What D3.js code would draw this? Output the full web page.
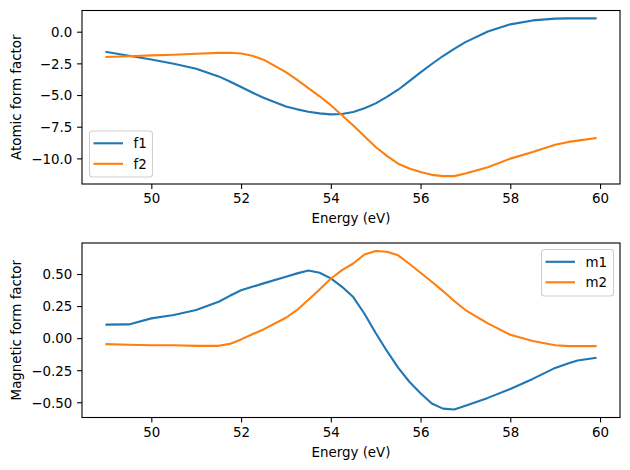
<!DOCTYPE html>
<html>
<head>
<meta charset="utf-8">
<script src="https://cdn.jsdelivr.net/npm/d3@7"></script>
<style>
  body { margin: 0; background: #fff; }
  svg text { font-family: "DejaVu Sans", sans-serif; font-size: 13.4px; fill: #000; }
</style>
</head>
<body>
<svg id="chart" width="630" height="470"></svg>
<script>
// energies (eV)
var energy = [49, 49.5, 50, 50.5, 51, 51.5, 51.75, 52, 52.25, 52.5, 53, 53.25, 53.5, 53.75, 54, 54.25, 54.5, 54.75, 55, 55.25, 55.5, 55.75, 56, 56.25, 56.5, 56.75, 57, 57.5, 58, 58.5, 59, 59.3, 59.5, 59.9];

// atomic form factor
var f1 = [-1.6, -1.9, -2.2, -2.53, -2.92, -3.53, -3.93, -4.37, -4.8, -5.21, -5.9, -6.13, -6.32, -6.45, -6.53, -6.5, -6.34, -6.05, -5.66, -5.15, -4.58, -3.9, -3.21, -2.55, -1.92, -1.35, -0.82, 0.02, 0.58, 0.89, 1.03, 1.05, 1.05, 1.05];
var f2 = [-2.0, -1.94, -1.87, -1.82, -1.74, -1.67, -1.66, -1.72, -1.9, -2.21, -3.19, -3.8, -4.45, -5.1, -5.8, -6.6, -7.4, -8.25, -9.1, -9.8, -10.42, -10.8, -11.08, -11.3, -11.4, -11.4, -11.2, -10.7, -10.02, -9.5, -8.92, -8.7, -8.6, -8.4];

// magnetic form factor
var m1 = [0.105, 0.107, 0.154, 0.18, 0.219, 0.284, 0.33, 0.373, 0.4, 0.427, 0.479, 0.505, 0.527, 0.51, 0.466, 0.4, 0.32, 0.19, 0.04, -0.1, -0.23, -0.34, -0.43, -0.51, -0.55, -0.557, -0.528, -0.466, -0.396, -0.318, -0.232, -0.195, -0.175, -0.154];
var m2 = [-0.047, -0.052, -0.055, -0.056, -0.06, -0.06, -0.045, -0.01, 0.03, 0.068, 0.159, 0.22, 0.3, 0.38, 0.463, 0.53, 0.582, 0.652, 0.68, 0.674, 0.646, 0.58, 0.51, 0.44, 0.367, 0.29, 0.219, 0.115, 0.026, -0.023, -0.055, -0.062, -0.062, -0.062];

var xTicks = [50, 52, 54, 56, 58, 60];
var topTicks = [0, -2.5, -5, -7.5, -10];
var botTicks = [0.5, 0.25, 0, -0.25, -0.5];

var blue = "#1f77b4", orange = "#ff7f0e";
var svg = d3.select("#chart");
var left = 82, right = 620;

function padded(vals) {
  var lo = d3.min(vals), hi = d3.max(vals), w = hi - lo;
  return [lo - 0.05 * w, hi + 0.05 * w];
}

function panel(top, bottom, s1, s2, names, ticks, fmt, ylabel, legendBox) {
  var x = d3.scaleLinear().domain(padded(energy)).range([left, right]);
  var y = d3.scaleLinear().domain(padded(s1.concat(s2))).range([bottom, top]);
  var g = svg.append("g");

  var line = d3.line().x((d, i) => x(energy[i])).y(d => y(d));
  [[s1, blue], [s2, orange]].forEach(function(p) {
    g.append("path").datum(p[0])
      .attr("d", line)
      .attr("fill", "none")
      .attr("stroke", p[1])
      .attr("stroke-width", 2.1)
      .attr("stroke-linejoin", "round")
      .attr("stroke-linecap", "square");
  });

  var xa = g.append("g").attr("transform", "translate(0," + bottom + ")")
    .call(d3.axisBottom(x).tickValues(xTicks).tickFormat(d3.format("d")).tickSize(4.9).tickPadding(4.9));
  var ya = g.append("g").attr("transform", "translate(" + left + ",0)")
    .call(d3.axisLeft(y).tickValues(ticks).tickFormat(d3.format(fmt)).tickSize(4.9).tickPadding(4.9));
  [xa, ya].forEach(a => {
    a.select(".domain").remove();
    a.selectAll("line").attr("stroke", "#000").attr("stroke-width", 1.1);
    a.selectAll("text").attr("font-family", null).attr("font-size", null);
  });
  ya.selectAll("text").attr("dy", "0.36em");

  g.append("rect")
    .attr("x", left).attr("y", top)
    .attr("width", right - left).attr("height", bottom - top)
    .attr("fill", "none").attr("stroke", "#000").attr("stroke-width", 1.1);

  g.append("text")
    .attr("x", (left + right) / 2).attr("y", bottom + 39)
    .attr("text-anchor", "middle")
    .text("Energy (eV)");
  g.append("text")
    .attr("transform", "translate(21," + ((top + bottom) / 2) + ") rotate(-90)")
    .attr("text-anchor", "middle")
    .text(ylabel);

  // legend
  var lb = legendBox;
  var lg = g.append("g");
  lg.append("rect")
    .attr("x", lb.x).attr("y", lb.y).attr("width", lb.w).attr("height", lb.h)
    .attr("rx", 3)
    .attr("fill", "rgba(255,255,255,0.8)")
    .attr("stroke", "#d0d0d0").attr("stroke-width", 1.1);
  [blue, orange].forEach(function(c, i) {
    var ly = lb.y + 12.3 + i * 20.5;
    lg.append("line")
      .attr("x1", lb.x + 4).attr("x2", lb.x + 33.5)
      .attr("y1", ly).attr("y2", ly)
      .attr("stroke", c).attr("stroke-width", 2.1);
    lg.append("text")
      .attr("x", lb.x + 44).attr("y", ly).attr("dy", "0.36em")
      .text(names[i]);
  });
}

panel(10.5, 184, f1, f2, ["f1", "f2"], topTicks, ".1f", "Atomic form factor",
  { x: 89.5, y: 131, w: 63, h: 46 });
panel(243, 417.5, m1, m2, ["m1", "m2"], botTicks, ".2f", "Magnetic form factor",
  { x: 541.5, y: 249.5, w: 72, h: 46.5 });
</script>
</body>
</html>
